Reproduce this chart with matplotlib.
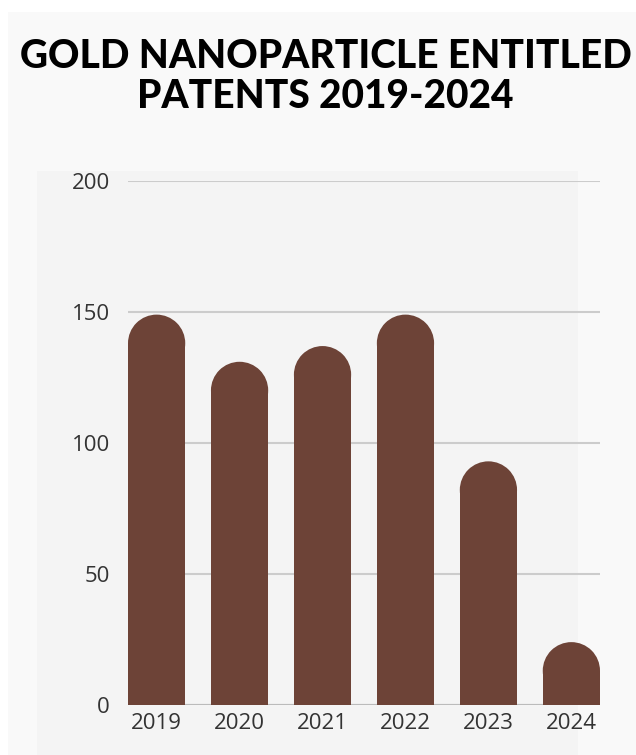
import matplotlib.pyplot as plt
from matplotlib.patches import Rectangle, Ellipse

years = ["2019", "2020", "2021", "2022", "2023", "2024"]
patents = [149, 131, 137, 149, 93, 24]
yticks = [0, 50, 100, 150, 200]

W, H = 636, 755
fig = plt.figure(figsize=(W / 100, H / 100), dpi=100)
fig.patch.set_facecolor("white")


def px_rect(x0, y0, x1, y1, color):
    # rectangle given in pixel coords from the top-left
    fig.patches.append(Rectangle((x0 / W, 1 - y1 / H), (x1 - x0) / W, (y1 - y0) / H,
                                 transform=fig.transFigure, facecolor=color,
                                 edgecolor="none", zorder=-5))


px_rect(8, 12, W, H, "#f9f9f9")     # card
px_rect(37, 171, 578, H, "#f4f4f4")  # inner panel

fig.text(0.512, 1 - 77 / H, "GOLD NANOPARTICLE ENTITLED\nPATENTS 2019-2024",
         ha="center", va="center", multialignment="center",
         fontsize=28, fontweight="black", family=["Lato", "DejaVu Sans"],
         color="black", linespacing=1.1)

ax = fig.add_axes([128 / W, 1 - 705 / H, 472 / W, 524 / H])
ax.set_facecolor("none")
width = 0.69
x = list(range(len(years)))
ax.set_xlim(-width / 2, len(years) - 1 + width / 2)
ax.set_ylim(0, 200)

bars = ax.bar(x, patents, width=width, color="#6d4337", zorder=3)

# rounded tops: radius in y data units matching half the bar width in pixels
p0 = ax.transData.transform((0, 0))
p1 = ax.transData.transform((width / 2, width / 2))
rx = width / 2
ry = rx * (p1[0] - p0[0]) / (p1[1] - p0[1])
for b in bars:
    h = b.get_height()
    b.set_height(h - ry)
    ax.add_patch(Ellipse((b.get_x() + rx, h - ry), 2 * rx, 2 * ry,
                         facecolor="#6d4337", edgecolor="none", zorder=3))

ax.set_yticks(yticks)
ax.set_xticks(x, years)
ax.grid(axis="y", color="#cccccc", linewidth=1.5, zorder=1)
for s in ax.spines.values():
    s.set_visible(False)
ax.axhline(0, color="#bbbbbb", linewidth=1.5, zorder=2)
ax.tick_params(length=0, labelsize=16, labelcolor="#333333")
ax.tick_params(axis="y", pad=13)
ax.tick_params(axis="x", pad=6)
for lab in ax.get_xticklabels() + ax.get_yticklabels():
    lab.set_family(["Open Sans", "DejaVu Sans"])

fig.savefig("out.png", dpi=100)
